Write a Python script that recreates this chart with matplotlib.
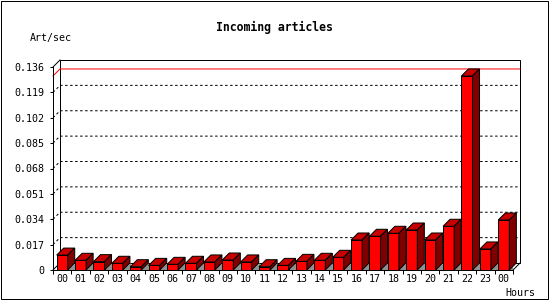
import numpy as np
import matplotlib
matplotlib.use('Agg')
import matplotlib.pyplot as plt
from matplotlib.patches import Polygon, Rectangle

# Data
HOURS = ['00', '01', '02', '03', '04', '05', '06', '07', '08', '09', '10', '11',
         '12', '13', '14', '15', '16', '17', '18', '19', '20', '21', '22', '23', '00']
VALUES = [0.0100, 0.0065, 0.0056, 0.0045, 0.0022, 0.0031, 0.0038, 0.0045,
          0.0054, 0.0067, 0.0054, 0.0022, 0.0031, 0.0058, 0.0065, 0.0085,
          0.0201, 0.0226, 0.0246, 0.0268, 0.0201, 0.0293, 0.1300, 0.0141, 0.0335]
Y_TICKS = [0, 0.017, 0.034, 0.051, 0.068, 0.085, 0.102, 0.119, 0.136]
Y_LABELS = ['0', '0.017', '0.034', '0.051', '0.068', '0.085', '0.102', '0.119', '0.136']

plt.rcParams['font.family'] = ['DejaVu Sans Mono']

W, H = 550, 300
PX = 72 / 100          # one pixel in points
LW = PX
DEPTH = 7              # 3d depth in pixels

fig = plt.figure(figsize=(W / 100, H / 100), dpi=100)
ax = fig.add_axes([53 / W, 30 / H, 460 / W, 203 / H])
ax.patch.set_visible(False)

x = np.arange(len(VALUES))
x0, x1 = -0.5, len(VALUES) - 0.5
ymax = Y_TICKS[-1]
ax.set_xlim(x0, x1)
ax.set_ylim(0, ymax)

# depth offsets in data units
DX = DEPTH * (x1 - x0) / 460
DY = DEPTH * ymax / 203

for s in ['top', 'right']:
    ax.spines[s].set_visible(False)
for s in ['left', 'bottom']:
    ax.spines[s].set_linewidth(LW)
    ax.spines[s].set_zorder(4)

# back wall
ax.add_patch(Rectangle((x0 + DX, DY), x1 - x0, ymax, facecolor='white',
                       edgecolor='black', lw=LW, zorder=0.5, clip_on=False))
# left wall and floor edges
ax.plot([x0, x0 + DX], [ymax, ymax + DY], color='black', lw=LW, clip_on=False, zorder=1)
ax.plot([x0, x0 + DX], [0, DY], color='black', lw=LW, clip_on=False, zorder=1)
ax.plot([x1, x1 + DX], [0, DY], color='black', lw=LW, clip_on=False, zorder=1)

# dotted grid on the walls
for v in Y_TICKS[1:-1]:
    ax.plot([x0, x0 + DX, x1 + DX], [v, v + DY, v + DY], color='black', lw=LW,
            ls=(0, (2.5, 2.5)), clip_on=False, zorder=1)

# max value line
m = max(VALUES)
ax.plot([x0, x0 + DX, x1 + DX], [m, m + DY, m + DY], color='#ff0000', lw=LW,
        clip_on=False, zorder=1.5)

# bars
bw = 0.6
ax.bar(x, VALUES, width=bw, color='#ff0000', edgecolor='black', lw=LW,
       zorder=3, clip_on=False)
for xi, v in zip(x, VALUES):
    l, r = xi - bw / 2, xi + bw / 2
    ax.add_patch(Polygon([(r, 0), (r + DX + 0.05, 0), (r + DX + 0.05, DY)],
                         closed=True, facecolor='#909090', edgecolor='none', zorder=2))
    ax.add_patch(Polygon([(l, v), (r, v), (r + DX, v + DY), (l + DX, v + DY)],
                         closed=True, facecolor='#c80000', edgecolor='black',
                         lw=LW, zorder=3, clip_on=False))
    ax.add_patch(Polygon([(r, 0), (r + DX, DY), (r + DX, v + DY), (r, v)],
                         closed=True, facecolor='#800000', edgecolor='black',
                         lw=LW, zorder=3, clip_on=False))

# ticks
ax.set_yticks(Y_TICKS, Y_LABELS)
ax.tick_params(axis='y', length=3 * PX, width=LW, pad=6 * PX, labelsize=7.2)
ax.set_xticks(x, HOURS)
ax.set_xticks(np.arange(x0, x1 + 0.5), minor=True)
ax.tick_params(axis='x', which='major', length=0, pad=4 * PX, labelsize=7.2)
ax.tick_params(axis='x', which='minor', length=4 * PX, width=LW)

# texts
fig.text(274 / W, 1 - 27 / H, 'Incoming articles', ha='center', va='center',
         fontsize=8.3, fontweight='bold')
fig.text(30 / W, 1 - 37.5 / H, 'Art/sec', ha='left', va='center', fontsize=7.2)
fig.text(505 / W, 1 - 292.5 / H, 'Hours', ha='left', va='center', fontsize=7.2)

# image frame
fig.add_artist(Rectangle((0.5 / W, 1.5 / H), 547 / W, 298 / H, fill=False,
                         edgecolor='black', lw=LW, transform=fig.transFigure))

fig.savefig('out.png', dpi=100)
